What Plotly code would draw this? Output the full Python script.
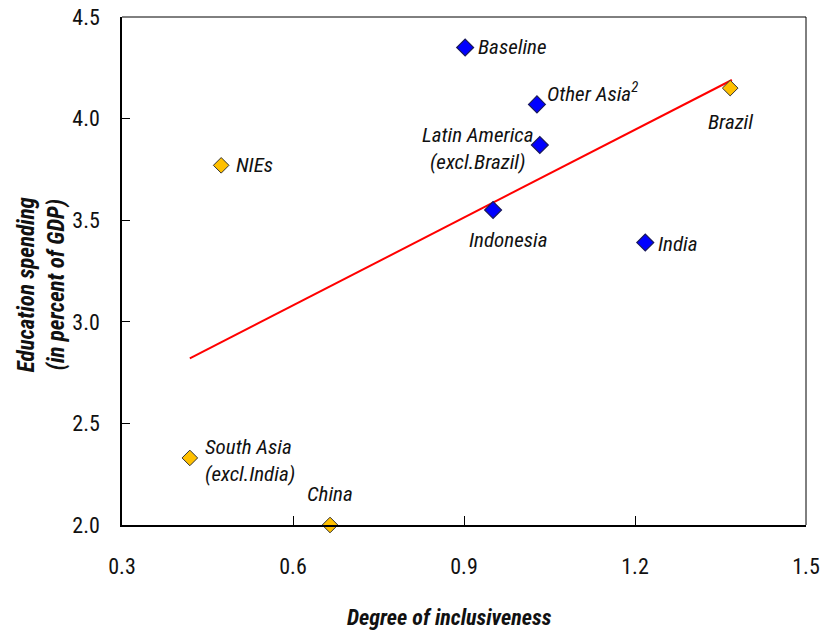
import plotly.graph_objects as go

# Data
blue_names = ["Baseline", "Other Asia<sup>2</sup>", "Latin America<br>(excl.Brazil)", "Indonesia", "India"]
blue_x = [0.902, 1.028, 1.033, 0.951, 1.218]
blue_y = [4.35, 4.07, 3.87, 3.55, 3.39]

gold_names = ["Brazil", "NIEs", "South Asia<br>(excl.India)", "China"]
gold_x = [1.367, 0.474, 0.419, 0.665]
gold_y = [4.15, 3.77, 2.33, 2.00]

trend_x = [0.419, 1.370]
trend_y = [2.82, 4.19]

x_ticks = [0.3, 0.6, 0.9, 1.2, 1.5]
y_ticks = [2.0, 2.5, 3.0, 3.5, 4.0, 4.5]

FONT = "Roboto Condensed, Noto Sans Condensed, Liberation Sans Narrow, Roboto, sans-serif"

fig = go.Figure()
fig.add_trace(go.Scatter(x=trend_x, y=trend_y, mode="lines",
                         line=dict(color="#FF0000", width=2), hoverinfo="skip"))
fig.add_trace(go.Scatter(x=blue_x, y=blue_y, mode="markers",
                         marker=dict(symbol="diamond", size=13, color="#0000FF",
                                     line=dict(color="#1A1A5A", width=1.2))))
fig.add_trace(go.Scatter(x=gold_x, y=gold_y, mode="markers", cliponaxis=False,
                         marker=dict(symbol="diamond", size=12, color="#FFC000",
                                     line=dict(color="#333333", width=1))))

# label offsets (pixels): xanchor, xshift, yshift, align
offsets = {
    "Baseline": ("left", 11, 0, "left"),
    "Other Asia<sup>2</sup>": ("left", 8, 12, "left"),
    "Latin America<br>(excl.Brazil)": ("center", -62, -3, "center"),
    "Indonesia": ("center", 15, -30, "center"),
    "India": ("left", 11, -1, "left"),
    "Brazil": ("center", 0, -34, "center"),
    "NIEs": ("left", 13, 0, "left"),
    "South Asia<br>(excl.India)": ("left", 13, -3, "left"),
    "China": ("center", 0, 31, "center"),
}

for names, xs, ys in [(blue_names, blue_x, blue_y), (gold_names, gold_x, gold_y)]:
    for n, xv, yv in zip(names, xs, ys):
        xa, xs_, ys_, al = offsets[n]
        fig.add_annotation(x=xv, y=yv, text="<i>" + n + "</i>", showarrow=False,
                           xanchor=xa, yanchor="middle", xshift=xs_, yshift=ys_,
                           align=al, font=dict(family=FONT, size=21, color="#111111"))

# axis titles
fig.add_annotation(xref="paper", yref="paper", x=0.4795, y=0, yshift=-92,
                   xanchor="center", yanchor="middle", showarrow=False,
                   text="<b><i>Degree of inclusiveness</i></b>",
                   font=dict(family=FONT, size=22, color="#111111"))
fig.add_annotation(xref="paper", yref="paper", x=0, y=0.474, xshift=-81,
                   xanchor="center", yanchor="middle", showarrow=False, textangle=-90,
                   text="<b><i>Education spending<br>(in percent of GDP)</i></b>",
                   font=dict(family=FONT, size=23, color="#111111"))

fig.update_layout(
    width=820, height=634,
    margin=dict(l=122, r=14, t=17, b=109),
    paper_bgcolor="white", plot_bgcolor="white",
    showlegend=False,
    font=dict(family=FONT, size=22, color="#111111"),
    xaxis=dict(range=[0.3, 1.5], tickvals=x_ticks, ticktext=[f"{v:.1f}" for v in x_ticks],
               ticks="inside", ticklen=9, tickcolor="black", tickwidth=1,
               showline=True, linecolor="black", linewidth=2, mirror=False,
               showgrid=False, zeroline=False, ticklabelstandoff=21,
               automargin=False, ticklabeloverflow="allow"),
    yaxis=dict(range=[2.0, 4.5], tickvals=y_ticks, ticktext=[f"{v:.1f}" for v in y_ticks],
               ticks="inside", ticklen=8, tickcolor="black", tickwidth=1,
               showline=True, linecolor="black", linewidth=1.5, mirror=False,
               showgrid=False, zeroline=False, ticklabelstandoff=16,
               automargin=False, ticklabeloverflow="allow"),
)
# thin top and right frame lines
fig.add_shape(type="line", xref="paper", yref="paper", x0=0, x1=1, y0=1, y1=1,
              line=dict(color="black", width=1))
fig.add_shape(type="line", xref="paper", yref="paper", x0=1, x1=1, y0=0, y1=1,
              line=dict(color="black", width=1))

fig.write_html("out.html", config={"displayModeBar": False},
               post_script="document.body.style.margin='0';document.body.style.overflow='hidden';")
